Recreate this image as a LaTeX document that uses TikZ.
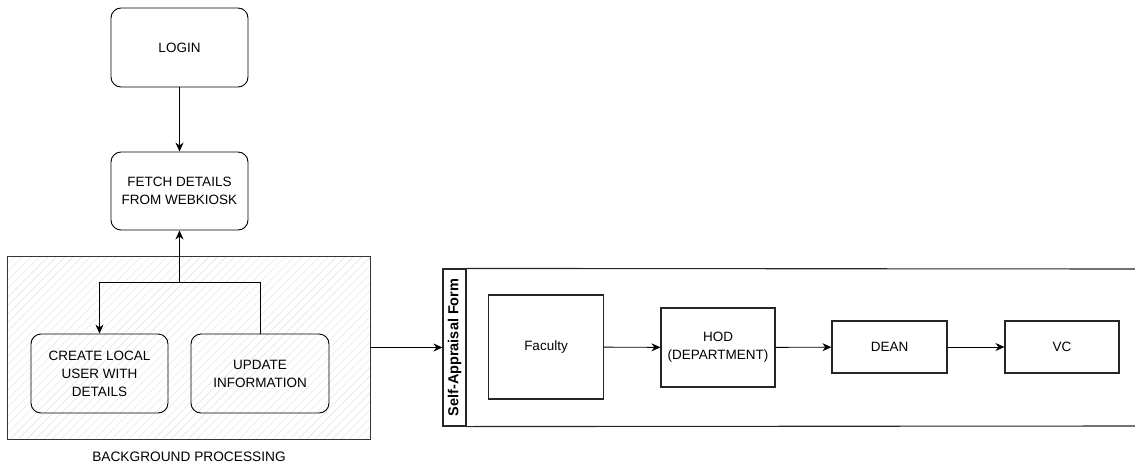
\documentclass[tikz,border=0pt]{standalone}
\usepackage{fontspec}
\setmainfont{Liberation Sans}
\usetikzlibrary{arrows.meta}
\usetikzlibrary{patterns.meta}
\tikzset{
  step_n/.style = {draw=black, rounded corners=10pt, align=center, inner sep=0pt,
    minimum width=137pt, minimum height=79pt, line width=0.9pt,
    font=\fontsize{13.5}{18}\selectfont},% rounded process box
  role_n/.style = {draw=black!85, align=center, inner sep=0pt,
    minimum width=115pt, line width=1.1pt,
    font=\fontsize{13.5}{18}\selectfont},% box of the form lane
  bg_n/.style = {draw=black!80, line width=0.9pt, inner sep=0pt,
    pattern={Lines[angle=45,distance=6pt,line width=0.4pt]},
    pattern color=black!13},% background processing area
  head_n/.style = {draw=black!85, line width=1.1pt, inner sep=0pt,
    minimum width=23pt, minimum height=157pt},% lane header
}

\begin{document}
\begin{tikzpicture}[x=1pt,y=-1pt,>={Stealth[length=9pt,width=8pt]},line width=0.9pt]
\useasboundingbox (0,0) rectangle (1135,466);

% background processing
\node [bg_n, minimum width=363pt, minimum height=183pt] (bg) at (188.5,347.5) {};
\node [font=\fontsize{13.7}{16}\selectfont] (bgtxt) at (189,457) {BACKGROUND PROCESSING};

\node [step_n] (login) at (179.5,47.5) {LOGIN};
\node [step_n, minimum height=78pt] (fetch) at (179.5,191) {FETCH DETAILS\\FROM WEBKIOSK};
\node [step_n] (create) at (99.5,373.5) {CREATE LOCAL\\USER WITH\\DETAILS};
\node [step_n, minimum width=138pt] (update) at (260,373.5) {UPDATE\\INFORMATION};

\coordinate (jn) at (179.5,282);
\draw [->] (login) -- (fetch);
\draw [->] (update.north) |- (jn) -- (fetch.south);
\draw [->] (jn) -| (create.north);

% self-appraisal lane
\node [head_n] (head) at (454.5,347.5) {};
\node [rotate=90, font=\bfseries\fontsize{14.5}{16}\selectfont] (headtxt) at (head) {Self-Appraisal Form};
\coordinate (laneNE) at (1136,269);
\coordinate (laneSE) at (1136,426);
\draw [black!85, line width=1.1pt] (head.north east) -- (laneNE);
\draw [black!85, line width=1.1pt] (head.south east) -- (laneSE);

\node [role_n, minimum height=104pt] (faculty) at (546,347) {Faculty};
\node [role_n, minimum width=114pt, minimum height=79pt] (hod) at (718,347.5) {HOD\\(DEPARTMENT)};
\node [role_n, minimum height=52pt] (dean) at (889.5,347) {DEAN};
\node [role_n, minimum width=114pt, minimum height=52pt] (vc) at (1062,347) {VC};

\draw [->] (bg) -- (head);
\draw [->] (faculty) -- (hod);
\draw [->] (hod) -- (dean);
\draw [->] (dean) -- (vc);
\end{tikzpicture}
\end{document}
